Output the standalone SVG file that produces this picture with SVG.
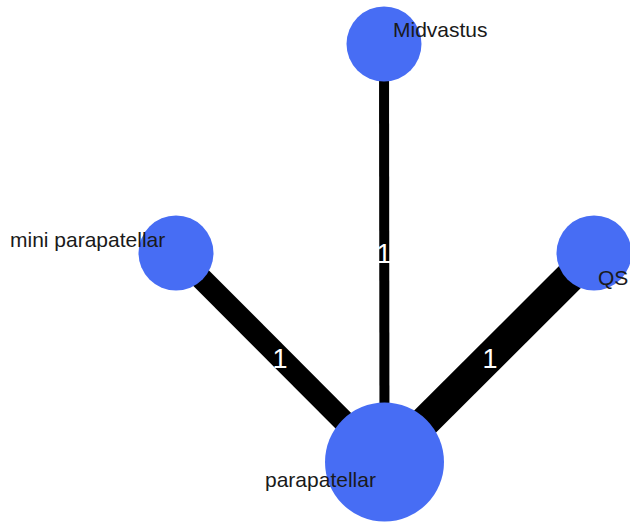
<svg xmlns="http://www.w3.org/2000/svg" width="630" height="522" viewBox="0 0 630 522">
<style>
.node{fill:#476DF4;}
.lbl{font-family:"Liberation Sans",Arial,sans-serif;font-size:21px;fill:#1a1a1a;}
.elbl{font-family:"Liberation Sans",Arial,sans-serif;font-size:27px;fill:#ffffff;text-anchor:middle;}
.edge{stroke:#000;fill:none;}
</style>
<rect width="630" height="522" fill="#ffffff"/>
<g id="connectors">
<line class="edge" x1="384" y1="44" x2="384.5" y2="462" stroke-width="10"/>
<line class="edge" x1="176" y1="253" x2="384.5" y2="462" stroke-width="22"/>
<line class="edge" x1="594" y1="253" x2="384.5" y2="462" stroke-width="31"/>
<text class="elbl" x="384" y="263">1</text>
<text class="elbl" x="280" y="368">1</text>
<text class="elbl" x="490" y="368">1</text>
</g>
<g id="node-midvastus">
<circle class="node" cx="384" cy="44" r="37.5"/>
<text class="lbl" x="393" y="37">Midvastus</text>
</g>
<g id="node-mini-parapatellar">
<circle class="node" cx="176" cy="253" r="37.5"/>
<text class="lbl" x="10" y="247">mini parapatellar</text>
</g>
<g id="node-qs">
<circle class="node" cx="594" cy="253" r="37.5"/>
<text class="lbl" x="598" y="285">QS</text>
</g>
<g id="node-parapatellar">
<circle class="node" cx="384.5" cy="462" r="59.5"/>
<text class="lbl" x="265" y="487">parapatellar</text>
</g>
</svg>
